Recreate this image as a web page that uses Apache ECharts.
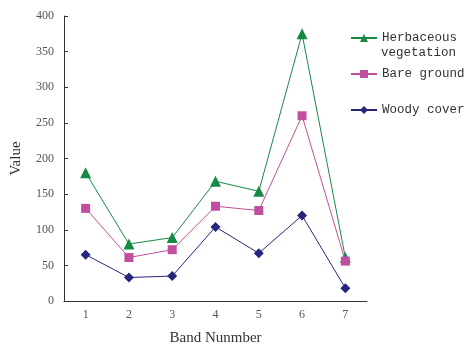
<!DOCTYPE html>
<html><head><meta charset="utf-8">
<script src="https://cdn.jsdelivr.net/npm/echarts@6/dist/echarts.min.js"></script>
<style>html,body{margin:0;padding:0;background:#fff}#c{width:468px;height:344px}</style>
</head><body><div id="c"></div>
<script>
var categories = ['1','2','3','4','5','6','7'];
var herbaceous = [180, 80, 89, 168, 154, 375, 61];
var bareGround = [130, 61, 72, 133, 127, 260, 56];
var woodyCover = [65, 33, 35, 104, 67, 120, 18];
var yTicks = [0, 50, 100, 150, 200, 250, 300, 350, 400];

var chart = echarts.init(document.getElementById('c'));
var legendText = {fontFamily: 'Liberation Mono', fontSize: 12.5, color: '#333', lineHeight: 16};
function lg(name, top, extra) {
  return Object.assign({
    data: [name], left: 350, top: top, orient: 'vertical',
    itemWidth: 26, itemHeight: 10, itemGap: 0, padding: 0,
    textStyle: Object.assign({}, legendText)
  }, extra || {});
}
chart.setOption({
  animation: false,
  grid: {left: 64, right: 101, top: 16, bottom: 43, containLabel: false, outerBoundsMode: 'none'},
  legend: [
    lg('Herbaceous vegetation', 30, {formatter: function(){return 'Herbaceous';}}),
    lg('Bare ground', 66),
    lg('Woody cover', 102)
  ],
  graphic: [{
    type: 'text', left: 381, top: 46,
    style: {text: 'vegetation', fontFamily: 'Liberation Mono', fontSize: 12.5, fill: '#333'}
  }],
  xAxis: {
    type: 'category', data: categories, boundaryGap: true,
    name: 'Band Nunmber', nameLocation: 'middle', nameGap: 30,
    nameTextStyle: {fontFamily: 'Liberation Serif', fontSize: 15, color: '#333'},
    axisLine: {lineStyle: {color: '#333', width: 1}},
    axisTick: {inside: true, length: 4, lineStyle: {color: '#333'}},
    axisLabel: {fontFamily: 'Liberation Serif', fontSize: 12, color: '#555', margin: 8}
  },
  yAxis: {
    type: 'value', min: 0, max: 400, interval: 50,
    name: 'Value', nameLocation: 'middle', nameGap: 40, nameRotate: 90,
    nameTextStyle: {fontFamily: 'Liberation Serif', fontSize: 15, color: '#333'},
    splitLine: {show: false},
    axisLine: {show: true, lineStyle: {color: '#333', width: 1}},
    axisTick: {show: true, inside: true, length: 4, lineStyle: {color: '#333'}},
    axisLabel: {fontFamily: 'Liberation Serif', fontSize: 12, color: '#555', margin: 10,
      formatter: function(v){ return yTicks.indexOf(v) >= 0 ? String(v) : ''; }}
  },
  series: [
    {name: 'Herbaceous vegetation', type: 'line', data: herbaceous, symbol: 'triangle', symbolSize: 11,
     itemStyle: {color: '#168a45'}, lineStyle: {color: '#168a45', width: 1}},
    {name: 'Bare ground', type: 'line', data: bareGround, symbol: 'rect', symbolSize: 9,
     itemStyle: {color: '#c0509f'}, lineStyle: {color: '#c0509f', width: 1}},
    {name: 'Woody cover', type: 'line', data: woodyCover, symbol: 'diamond', symbolSize: 10,
     itemStyle: {color: '#26267c'}, lineStyle: {color: '#26267c', width: 1}}
  ]
});
</script></body></html>
